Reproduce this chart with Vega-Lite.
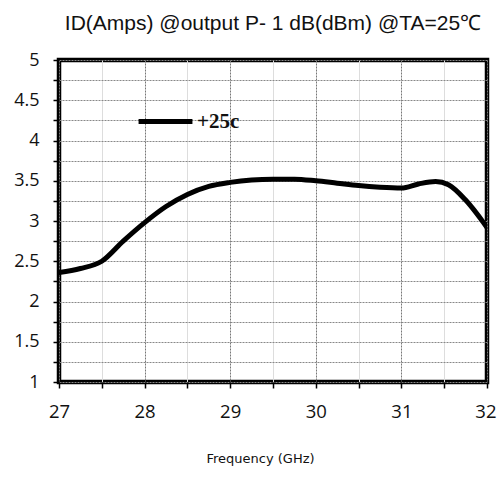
{
  "$schema": "https://vega.github.io/schema/vega-lite/v6.json",
  "width": 428,
  "height": 322,
  "autosize": "none",
  "padding": {"left": 59, "top": 60, "right": 10, "bottom": 110},
  "background": "white",
  "title": {
    "text": "ID(Amps) @output P- 1 dB(dBm) @TA=25℃",
    "font": "Liberation Sans",
    "fontSize": 21,
    "fontWeight": "normal",
    "color": "#111",
    "anchor": "middle",
    "offset": 17
  },
  "data": {
    "values": [
      {"f": 27, "id": 2.36, "s": "+25c"},
      {"f": 27.25, "id": 2.41, "s": "+25c"},
      {"f": 27.5, "id": 2.5, "s": "+25c"},
      {"f": 27.75, "id": 2.75, "s": "+25c"},
      {"f": 28, "id": 2.98, "s": "+25c"},
      {"f": 28.25, "id": 3.18, "s": "+25c"},
      {"f": 28.5, "id": 3.33, "s": "+25c"},
      {"f": 28.75, "id": 3.43, "s": "+25c"},
      {"f": 29, "id": 3.48, "s": "+25c"},
      {"f": 29.25, "id": 3.51, "s": "+25c"},
      {"f": 29.5, "id": 3.52, "s": "+25c"},
      {"f": 29.75, "id": 3.52, "s": "+25c"},
      {"f": 30, "id": 3.5, "s": "+25c"},
      {"f": 30.25, "id": 3.47, "s": "+25c"},
      {"f": 30.5, "id": 3.44, "s": "+25c"},
      {"f": 30.75, "id": 3.42, "s": "+25c"},
      {"f": 31, "id": 3.41, "s": "+25c"},
      {"f": 31.2, "id": 3.46, "s": "+25c"},
      {"f": 31.4, "id": 3.49, "s": "+25c"},
      {"f": 31.55, "id": 3.45, "s": "+25c"},
      {"f": 31.75, "id": 3.26, "s": "+25c"},
      {"f": 32, "id": 2.92, "s": "+25c"}
    ]
  },
  "mark": {"type": "line", "interpolate": "monotone", "strokeWidth": 5, "strokeCap": "round", "strokeJoin": "round", "clip": true},
  "encoding": {
    "x": {
      "field": "f",
      "type": "quantitative",
      "scale": {"domain": [27, 32], "nice": false, "zero": false},
      "axis": {
        "title": "Frequency (GHz)",
        "titleFont": "DejaVu Sans",
        "titleFontSize": 13,
        "titleFontWeight": "normal",
        "titleColor": "#111",
        "titlePadding": 32,
        "titleX": 201,
        "values": [27, 27.5, 28, 28.5, 29, 29.5, 30, 30.5, 31, 31.5, 32],
        "labelExpr": "datum.value % 1 === 0 ? format(datum.value, '~g') : ''",
        "labelFont": "Open Sans",
        "labelFontSize": 18.5,
        "labelColor": "#111",
        "labelPadding": 14,
        "labelFlush": false,
        "labelOverlap": false,
        "labelAlign": {"condition": {"test": "datum.value === 32", "value": "right"}, "value": "center"},
        "labelOffset": {"condition": {"test": "datum.value === 32", "value": 9}, "value": 0},
        "domain": false,
        "tickColor": "black",
        "tickSize": 6,
        "tickWidth": 1.5,
        "grid": true,
        "gridColor": {"condition": {"test": "datum.value % 1 === 0", "value": "#777"}, "value": "#ddd"},
        "gridDash": {"condition": {"test": "datum.value % 1 === 0", "value": [2, 1]}, "value": []},
        "gridWidth": 1
      }
    },
    "y": {
      "field": "id",
      "type": "quantitative",
      "scale": {"domain": [1, 5], "nice": false, "zero": false},
      "axis": {
        "title": null,
        "values": [1, 1.25, 1.5, 1.75, 2, 2.25, 2.5, 2.75, 3, 3.25, 3.5, 3.75, 4, 4.25, 4.5, 4.75, 5],
        "labelExpr": "datum.value % 0.5 === 0 ? format(datum.value, '~g') : ''",
        "labelFont": "Open Sans",
        "labelFontSize": 18,
        "labelColor": "#111",
        "labelPadding": 14,
        "labelFlush": false,
        "labelOverlap": false,
        "domain": false,
        "tickColor": "black",
        "tickSize": 6,
        "tickWidth": 1.5,
        "grid": true,
        "gridColor": "#888",
        "gridDash": [2, 1],
        "gridWidth": 1
      }
    },
    "color": {
      "field": "s",
      "type": "nominal",
      "scale": {"range": ["black"]},
      "legend": {
        "title": null,
        "orient": "none",
        "legendX": 77,
        "legendY": 32,
        "symbolType": "stroke",
        "symbolSize": 2900,
        "symbolStrokeWidth": 5,
        "labelFont": "Liberation Serif",
        "labelFontSize": 21,
        "labelFontWeight": "bold",
        "labelColor": "#111",
        "labelOffset": 2,
        "padding": 0
      }
    }
  },
  "config": {
    "view": {"stroke": "black", "strokeWidth": 4.5}
  }
}
